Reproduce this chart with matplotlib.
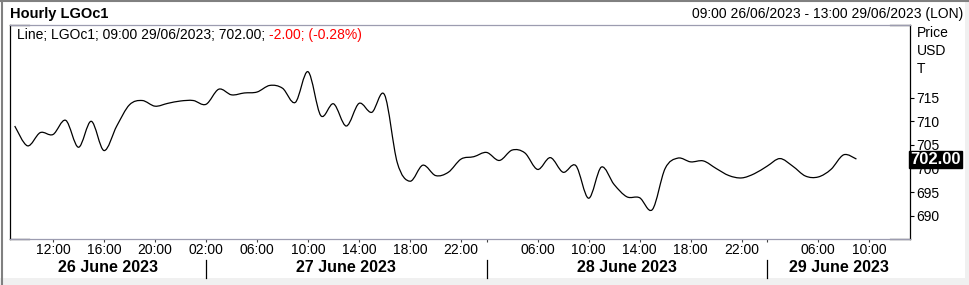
import matplotlib.pyplot as plt
from matplotlib.lines import Line2D
from matplotlib.patches import Rectangle, PathPatch
from matplotlib.path import Path

plt.rcParams['font.family'] = ['Liberation Sans', 'DejaVu Sans']

# hourly closes, 09:00 26/06 .. 09:00 29/06 (bars 01:00-22:00 each day)
prices = [709.0, 704.8, 707.6, 707.2, 710.2, 704.5, 710.0, 703.8, 709.0, 713.5,
          714.4, 713.2, 713.8, 714.3, 714.4, 713.6, 716.8, 715.6, 716.0, 716.2,
          717.6, 717.0, 714.0, 720.5, 711.2, 713.7, 709.0, 713.8, 711.9, 715.6,
          701.2, 697.3, 700.7, 698.5, 699.2, 702.0, 702.5, 703.4, 701.7, 703.9,
          703.3, 699.8, 702.3, 699.2, 700.6, 693.7, 700.3, 696.6, 694.0, 693.8,
          691.3, 700.0, 702.2, 701.4, 701.6, 700.0, 698.5, 698.0, 698.9, 700.5,
          702.1, 700.5, 698.4, 698.2, 699.8, 702.9, 702.0]
bars = list(range(len(prices)))

tick_idx = [3, 7, 11, 15, 19, 23, 27, 31, 35, 37, 41, 45, 49, 53, 57, 59, 63, 67]
tick_labels = ['12:00', '16:00', '20:00', '02:00', '06:00', '10:00', '14:00', '18:00', '22:00', '',
               '06:00', '10:00', '14:00', '18:00', '22:00', '', '06:00', '10:00']
day_starts = [15, 37, 59]
day_labels = ['26 June 2023', '27 June 2023', '28 June 2023', '29 June 2023']
y_ticks = [690, 695, 700, 705, 710, 715]
last_price = 702.00

x_min, x_max = -0.41, 70.2

fig = plt.figure(figsize=(9.69, 2.85), dpi=100)
ax = fig.add_axes([9.5 / 969, 1 - 239 / 285, 900.5 / 969, 214 / 285])

# smoothed line (bezier segments through the hourly closes)
pts = list(zip(bars, prices))
verts = [pts[0]]
codes = [Path.MOVETO]
for i in range(len(pts) - 1):
    p0 = pts[i - 1] if i > 0 else pts[i]
    p1, p2 = pts[i], pts[i + 1]
    p3 = pts[i + 2] if i + 2 < len(pts) else pts[i + 1]
    c1 = (p1[0] + (p2[0] - p0[0]) / 6, p1[1] + (p2[1] - p0[1]) / 6)
    c2 = (p2[0] - (p3[0] - p1[0]) / 6, p2[1] - (p3[1] - p1[1]) / 6)
    verts += [c1, c2, p2]
    codes += [Path.CURVE4] * 3
ax.add_patch(PathPatch(Path(verts, codes), fill=False, edgecolor='black', linewidth=0.9))

ax.set_xlim(x_min, x_max)
ax.set_ylim(685.06, 730.4)

ax.set_xticks(tick_idx)
ax.set_xticklabels(tick_labels, fontsize=10)
ax.tick_params(axis='x', length=2.5, width=0.8, color='#404040', pad=0.5)
ax.yaxis.tick_right()
ax.set_yticks(y_ticks)
ax.tick_params(axis='y', length=3, width=0.8, pad=1.5, labelsize=10)

for side in ['left', 'right']:
    ax.spines[side].set_color('black')
    ax.spines[side].set_linewidth(0.9)
for side in ['top', 'bottom']:
    ax.spines[side].set_color('#9c9cb0')
    ax.spines[side].set_linewidth(0.9)
# black corner stubs
for xs in ([0, 0.022], [0.978, 1]):
    for yy in (0, 1):
        ax.plot(xs, [yy, yy], color='black', linewidth=0.9, transform=ax.transAxes, clip_on=False)

# day separators and date labels
bounds = [x_min] + day_starts + [x_max]
for d in day_starts:
    ax.plot([d, d], [-0.098, -0.182], color='black', linewidth=0.9,
            transform=ax.get_xaxis_transform(), clip_on=False)
for i, lab in enumerate(day_labels):
    ax.text((bounds[i] + bounds[i + 1]) / 2, -0.134, lab, transform=ax.get_xaxis_transform(),
            ha='center', va='center', fontsize=11.5, fontweight='bold')

# last price marker
ax.text(x_max + 0.02, last_price, f'{last_price:.2f}', ha='left', va='center', fontsize=12,
        fontweight='bold', color='white', zorder=10, clip_on=False,
        bbox=dict(boxstyle='square,pad=0.06', facecolor='black', edgecolor='black'))

# header texts
fig.text(10 / 969, 1 - 14 / 285, 'Hourly LGOc1', ha='left', va='center', fontsize=10.5, fontweight='bold')
fig.text(963 / 969, 1 - 14 / 285, '09:00 26/06/2023 - 13:00 29/06/2023 (LON)', ha='right', va='center',
         fontsize=10)
t1 = fig.text(17 / 969, 1 - 35 / 285, 'Line; LGOc1; 09:00 29/06/2023; 702.00; ', ha='left', va='center',
              fontsize=10)
ax.annotate('-2.00; (-0.28%)', xy=(1, 0), xycoords=t1, ha='left', va='bottom', color='red', fontsize=10)

for lab, yp in zip(['Price', 'USD', 'T'], [33, 51, 69]):
    fig.text(917 / 969, 1 - yp / 285, lab, ha='left', va='center', fontsize=10)

# outer panel border
fig.add_artist(Line2D([1.5 / 969, 1.5 / 969], [0, 1], color='#808080', linewidth=1.5))
fig.add_artist(Line2D([0, 1], [1 - 0.7 / 285, 1 - 0.7 / 285], color='#808080', linewidth=1.5))
fig.add_artist(Rectangle((0, 0), 1, 7 / 285, transform=fig.transFigure, facecolor='#f0f0f0',
                         edgecolor='none', zorder=-1))
fig.add_artist(Rectangle((965 / 969, 0), 4 / 969, 1, transform=fig.transFigure, facecolor='#f0f0f0',
                         edgecolor='none', zorder=-1))

fig.savefig('out.png', dpi=100)
